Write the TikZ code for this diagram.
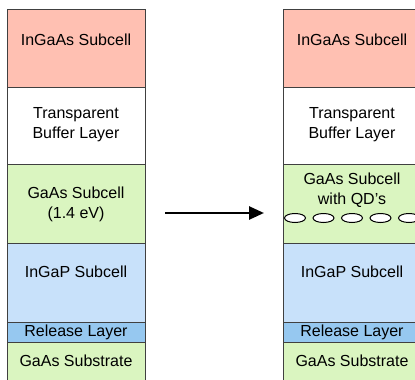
\documentclass[tikz,border=0pt]{standalone}
\usepackage{fontspec}
\setmainfont{Liberation Sans}
\usetikzlibrary{arrows.meta}
\definecolor{pinkcell}{RGB}{255,192,178}
\definecolor{greencell}{RGB}{218,245,192}
\definecolor{bluecell}{RGB}{200,225,250}
\definecolor{bluerel}{RGB}{150,200,240}
\definecolor{edgegray}{RGB}{64,64,64}
\begin{document}
\begin{tikzpicture}
  [x=1pt,y=-1pt,
   layer/.style={draw=edgegray, line width=1.2pt, anchor=north west,
     minimum width=138pt, inner sep=0pt},
   txt/.style={align=center, font=\fontsize{16}{20}\selectfont, inner sep=0pt}]
  \clip (0,0) rectangle (415,380);
  \fill[white] (0,0) rectangle (415,380);

  % left stack
  \node[layer, fill=pinkcell,  minimum height=78pt] (l1) at (7,9)   {};
  \node[layer, fill=white,     minimum height=77pt] (l2) at (7,87)  {};
  \node[layer, fill=greencell, minimum height=79pt] (l3) at (7,164) {};
  \node[layer, fill=bluecell,  minimum height=79pt] (l4) at (7,243) {};
  \node[layer, fill=bluerel,   minimum height=20pt] (l5) at (7,322) {};
  \node[layer, fill=greencell, minimum height=44pt] (l6) at (7,342) {};

  % right stack
  \node[layer, fill=pinkcell,  minimum height=78pt] (r1) at (283,9)   {};
  \node[layer, fill=white,     minimum height=77pt] (r2) at (283,87)  {};
  \node[layer, fill=greencell, minimum height=79pt] (r3) at (283,164) {};
  \node[layer, fill=bluecell,  minimum height=79pt] (r4) at (283,243) {};
  \node[layer, fill=bluerel,   minimum height=20pt] (r5) at (283,322) {};
  \node[layer, fill=greencell, minimum height=44pt] (r6) at (283,342) {};

  % quantum dots
  \foreach \x in {295,323.5,352,380.5,409}
    \draw[fill=white, line width=1pt] (\x,218) ellipse (10.5pt and 4.5pt);

  % labels
  \node[txt] (t1) at (76,40)   {InGaAs Subcell};
  \node[txt] (t2) at (76,125)  {Transparent\\Buffer Layer};
  \node[txt] (t3) at (76,204)  {GaAs Subcell\\(1.4 eV)};
  \node[txt] (t4) at (76,272)  {InGaP Subcell};
  \node[txt] (t5) at (76,332)  {Release Layer};
  \node[txt] (t6) at (76,361)  {GaAs Substrate};
  \node[txt] (u1) at (352,40)  {InGaAs Subcell};
  \node[txt] (u2) at (352,125) {Transparent\\Buffer Layer};
  \node[txt] (u3) at (352,190) {GaAs Subcell\\with QD's};
  \node[txt] (u4) at (352,272) {InGaP Subcell};
  \node[txt] (u5) at (352,332) {Release Layer};
  \node[txt] (u6) at (352,361) {GaAs Substrate};

  \coordinate (a1) at (165,213);
  \coordinate (a2) at (264,213);
  \draw[line width=2.6pt, -{Triangle[length=15pt,width=13pt]}] (a1) -- (a2);
\end{tikzpicture}
\end{document}
